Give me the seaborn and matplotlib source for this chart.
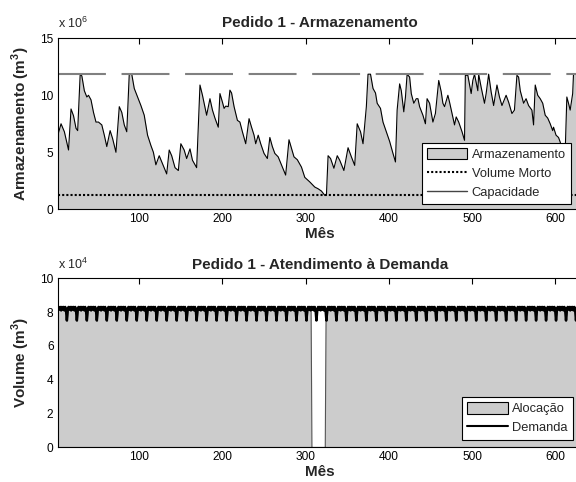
import numpy as np
import matplotlib
matplotlib.use('Agg')
import matplotlib.pyplot as plt
import seaborn as sns
from matplotlib.patches import Patch
from matplotlib.lines import Line2D

# Armazenamento (x 10^6 m3)
meses_arm = [1, 6, 10, 15, 18, 21, 24, 26, 29, 31,
             34, 37, 39, 42, 45, 48, 51, 55, 58, 61,
             65, 68, 72, 76, 79, 82, 85, 88, 91, 94,
             98, 102, 106, 110, 114, 117, 120, 124, 128, 133,
             136, 139, 143, 147, 150, 154, 157, 161, 164, 169,
             173, 176, 181, 185, 188, 191, 195, 197, 200, 202,
             204, 207, 209, 211, 214, 218, 221, 224, 228, 232,
             235, 238, 240, 243, 246, 250, 254, 257, 260, 263,
             267, 272, 276, 280, 283, 286, 290, 295, 299, 305,
             311, 315, 319, 323, 325, 327, 330, 334, 338, 341,
             346, 351, 355, 359, 362, 366, 369, 373, 375, 378,
             381, 384, 386, 390, 393, 397, 401, 405, 408, 410,
             413, 415, 418, 420, 422, 425, 427, 430, 433, 435,
             437, 441, 444, 446, 449, 453, 456, 460, 463, 465,
             467, 471, 473, 476, 479, 481, 484, 488, 491, 492,
             495, 499, 501, 503, 507, 508, 511, 515, 517, 520,
             523, 526, 530, 533, 536, 541, 544, 548, 551, 554,
             556, 558, 562, 565, 568, 572, 574, 576, 579, 582,
             585, 588, 591, 594, 597, 598, 601, 604, 606, 610,
             612, 614, 616, 618, 621, 622, 632]
armazenamento = [6.2, 7.5, 6.8, 5.2, 8.8, 8.2, 7.1, 6.9, 11.85, 11.7,
                 10.4, 9.85, 10.0, 9.6, 8.5, 7.65, 7.65, 7.4, 6.5, 5.5,
                 6.9, 6.2, 5.0, 9.0, 8.5, 7.4, 6.8, 11.85, 11.85, 10.6,
                 9.85, 9.1, 8.25, 6.5, 5.6, 5.0, 3.9, 4.7, 4.0, 3.1,
                 5.2, 4.7, 3.65, 3.4, 5.75, 5.2, 4.45, 5.3, 4.3, 3.65,
                 10.9, 10.0, 8.25, 9.7, 8.7, 8.0, 7.2, 10.15, 9.4, 8.85,
                 9.05, 9.0, 10.45, 10.2, 9.0, 7.8, 7.65, 6.8, 5.75, 7.95,
                 7.2, 6.5, 5.75, 6.5, 5.75, 4.9, 4.45, 6.3, 5.5, 4.9,
                 4.6, 3.7, 3.0, 6.1, 5.35, 4.6, 4.35, 3.7, 2.8, 2.4,
                 1.95, 1.8, 1.6, 1.23, 1.23, 4.7, 4.45, 3.6, 4.7, 4.3,
                 3.4, 5.4, 4.6, 3.85, 7.5, 6.8, 5.75, 9.0, 11.85, 11.85,
                 10.6, 10.2, 9.3, 8.85, 7.65, 6.8, 5.95, 4.9, 4.15, 8.7,
                 11.0, 10.4, 8.55, 9.85, 11.85, 11.6, 10.15, 9.3, 9.7, 9.7,
                 9.0, 8.25, 7.5, 9.7, 9.3, 7.65, 8.4, 11.3, 10.3, 9.3,
                 9.0, 10.0, 9.4, 8.4, 7.4, 8.1, 7.65, 6.8, 6.05, 11.75,
                 11.75, 10.15, 11.3, 11.85, 10.4, 11.85, 10.7, 9.3, 10.15, 11.85,
                 10.3, 9.1, 10.9, 9.85, 9.1, 10.0, 9.4, 8.4, 8.7, 11.75,
                 11.6, 10.4, 9.3, 9.7, 9.1, 8.7, 7.4, 10.9, 10.0, 9.7,
                 9.3, 8.25, 8.0, 7.5, 6.9, 7.2, 6.5, 6.3, 5.9, 4.8,
                 5.0, 9.85, 9.3, 8.7, 10.15, 11.85, 11.85]
capacidade = 11.85
volume_morto = 1.23

# Demanda mensal (x 10^4 m3), padrao sazonal de 12 meses
demanda_mensal = [7.5, 8.1, 8.3, 8.15, 8.3, 8.1, 8.3, 8.15, 8.3, 8.1, 8.3, 8.1]
falha_ini, falha_fim = 307, 323

meses = np.arange(1, 633)
demanda = np.tile(demanda_mensal, 53)[:meses.size]
alocacao = demanda.copy()
alocacao[(meses >= falha_ini) & (meses <= falha_fim)] = 0.0

sns.set_style('white')
plt.rcParams['font.family'] = ['Liberation Sans', 'DejaVu Sans']
plt.rcParams['mathtext.fontset'] = 'custom'
plt.rcParams['mathtext.rm'] = 'Liberation Sans'
plt.rcParams['mathtext.bf'] = 'Liberation Sans:bold'
plt.rcParams['axes.edgecolor'] = 'black'
plt.rcParams['axes.linewidth'] = 0.8

cinza = '#cccccc'
fig = plt.figure(figsize=(5.76, 4.82), dpi=100)
ax1 = fig.add_axes([0.1002, 0.5658, 0.9099, 0.3548])
ax2 = fig.add_axes([0.1002, 0.0726, 0.9099, 0.35])

leg_kw = dict(borderaxespad=0, fontsize=9.3, handlelength=3.1, handleheight=1.0,
              handletextpad=0.35, labelspacing=0.45, borderpad=0.4)

# --- Armazenamento ---
ax1.fill_between(meses_arm, armazenamento, color=cinza, lw=0)
sns.lineplot(x=meses_arm, y=armazenamento, color='black', lw=0.8, ax=ax1,
             estimator=None, sort=False)
ax1.axhline(volume_morto, color='black', ls=(0, (1, 1)), lw=1.5)
ax1.axhline(capacidade, color='#808080', ls=(0, (23, 7.5)), lw=1.5)
ax1.set_ylim(0, 15)
ax1.set_yticks([0, 5, 10, 15])
ax1.set_title('Pedido 1 - Armazenamento', fontsize=11, fontweight='bold', pad=8)
ax1.set_ylabel(r'Armazenamento (m$^\mathbf{3}$)', fontsize=11, fontweight='bold')
ax1.text(0, 1.04, r'x 10$^{6}$', transform=ax1.transAxes, fontsize=9,
         ha='left', va='bottom')
leg1 = ax1.legend(handles=[Patch(facecolor=cinza, edgecolor='black', lw=0.8, label='Armazenamento'),
                           Line2D([], [], color='black', ls=(0, (1, 1)), lw=1.5, label='Volume Morto'),
                           Line2D([], [], color='#444444', lw=1.0, label='Capacidade')],
                  loc='upper left', bbox_to_anchor=(0.695, 0.389), **leg_kw)

# --- Atendimento a demanda ---
ax2.fill_between(meses, alocacao, facecolor=cinza, edgecolor='#555555', lw=0.8)
sns.lineplot(x=meses, y=demanda, color='black', lw=1.8, ax=ax2)
ax2.set_ylim(0, 10)
ax2.set_yticks([0, 2, 4, 6, 8, 10])
ax2.set_title('Pedido 1 - Atendimento à Demanda', fontsize=11, fontweight='bold', pad=7)
ax2.set_ylabel(r'Volume (m$^\mathbf{3}$)', fontsize=11, fontweight='bold')
ax2.text(0, 1.04, r'x 10$^{4}$', transform=ax2.transAxes, fontsize=9,
         ha='left', va='bottom')
leg2 = ax2.legend(handles=[Patch(facecolor=cinza, edgecolor='black', lw=0.8, label='Alocação'),
                           Line2D([], [], color='black', lw=1.5, label='Demanda')],
                  loc='upper left', bbox_to_anchor=(0.772, 0.296), **leg_kw)

for ax, leg in [(ax1, leg1), (ax2, leg2)]:
    fr = leg.get_frame()
    fr.set_edgecolor('black')
    fr.set_linewidth(0.8)
    fr.set_alpha(1)
    fr.set_boxstyle('square', pad=0)
    ax.set_xlim(2, 632)
    ax.set_xticks([100, 200, 300, 400, 500, 600])
    ax.set_xlabel('Mês', fontsize=11, fontweight='bold', labelpad=1)
    ax.yaxis.set_label_coords(-0.05, 0.5)
    ax.tick_params(direction='in', top=True, right=True, length=4, width=0.8,
                   labelsize=8.6, pad=3, colors='black')
    for s in ax.spines.values():
        s.set_color('black')
        s.set_linewidth(0.8)

fig.savefig('out.png', dpi=100)
